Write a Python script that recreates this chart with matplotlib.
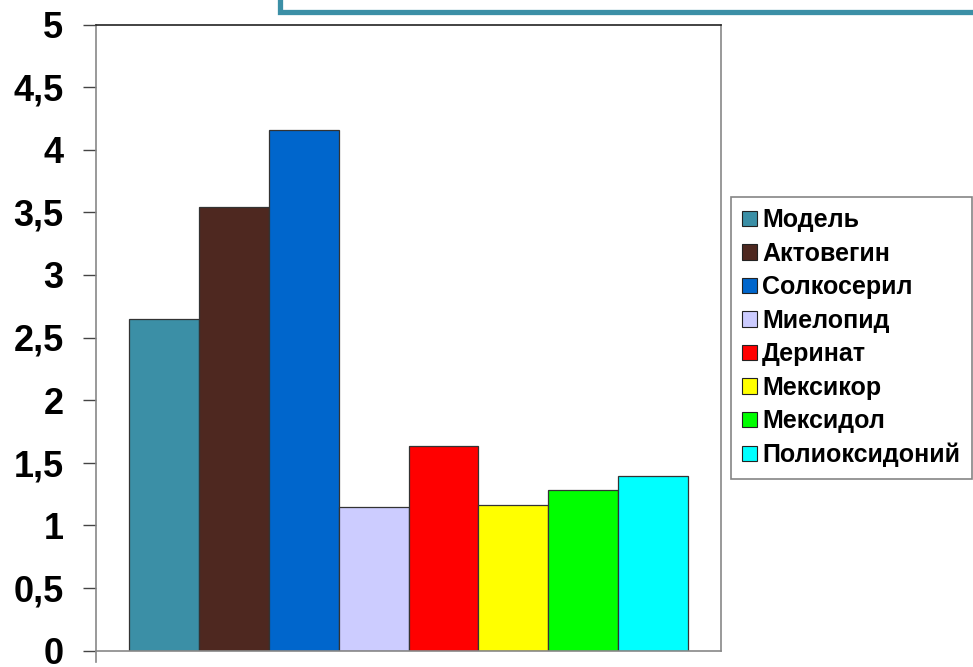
import matplotlib
matplotlib.use("Agg")
from matplotlib import pyplot as plt
from matplotlib.patches import Rectangle
from matplotlib.lines import Line2D

names = ['Модель', 'Актовегин', 'Солкосерил', 'Миелопид',
         'Деринат', 'Мексикор', 'Мексидол', 'Полиоксидоний']
values = [2.65, 3.54, 4.16, 1.15, 1.63, 1.16, 1.28, 1.39]
colors = ['#3B8FA6', '#4E2820', '#0066CC', '#CCCCFF',
          '#FF0000', '#FFFF00', '#00FF00', '#00FFFF']
yticks = [0, 0.5, 1, 1.5, 2, 2.5, 3, 3.5, 4, 4.5, 5]
ylabels = ['0', '0,5', '1', '1,5', '2', '2,5', '3', '3,5', '4', '4,5', '5']

plt.rcParams['font.family'] = ['Liberation Sans', 'DejaVu Sans']

W, H = 973, 667
fig = plt.figure(figsize=(W / 100, H / 100), dpi=100)
ax = fig.add_axes([96 / W, (H - 650.5) / H, 625 / W, 626 / H])

# slide title box peeking in at the top
fig.patches.append(Rectangle((280 / W, (H - 12) / H), 0.8, 0.1,
                             transform=fig.transFigure, facecolor='white',
                             edgecolor='#3B8FA6', linewidth=3.8))

for i, (n, v, c) in enumerate(zip(names, values, colors)):
    ax.bar(i, v, width=1.0, color=c, edgecolor='#333333', linewidth=0.9, label=n)

ax.set_xlim(-0.977, 7.977)
ax.set_ylim(0, 5)
ax.set_yticks(yticks)
ax.set_yticklabels(ylabels, fontsize=26, fontweight='bold')
ax.set_xticks([])
ax.tick_params(axis='y', length=9.4, width=1, color='#444444', pad=14)

ax.spines['top'].set_color('#222222')
ax.spines['right'].set_color('#888888')
ax.spines['left'].set_color('#888888')
ax.spines['bottom'].set_color('#888888')
for s in ax.spines.values():
    s.set_linewidth(1.2)

# left axis runs a little below zero
ax.add_line(Line2D([0, 0], [0, -0.018], transform=ax.transAxes,
                   color='#888888', linewidth=1.2, clip_on=False))

leg = fig.legend(loc='upper left', bbox_to_anchor=(731 / W, (H - 197) / H),
                 prop={'size': 18, 'weight': 'bold'}, frameon=True,
                 fancybox=False, borderaxespad=0, handlelength=0.6,
                 handleheight=0.6, handletextpad=0.2, labelspacing=0.38,
                 borderpad=0.45)
leg.get_frame().set_edgecolor('#666666')
leg.get_frame().set_linewidth(1.2)
for h in leg.legend_handles:
    h.set_edgecolor('#222222')
    h.set_linewidth(0.8)

fig.savefig('out.png', dpi=100)
